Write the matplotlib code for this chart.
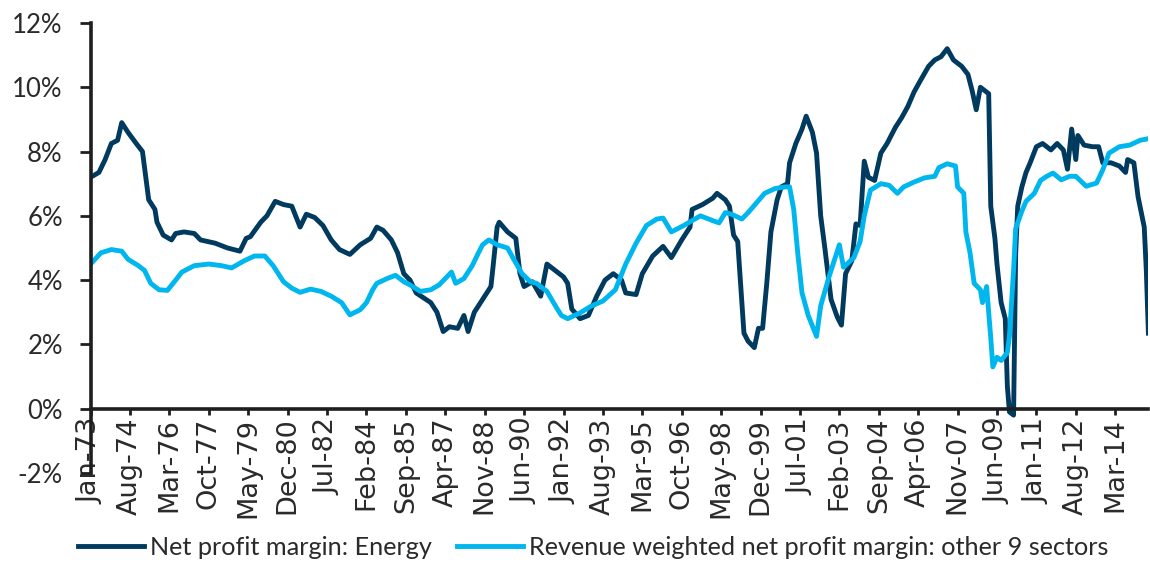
"""
Net profit margin of the Energy sector vs. revenue weighted margin of the other 9 sectors.
Line chart, Jan-73 to mid-2015, monthly axis with a label every 19 months.
"""

import matplotlib
matplotlib.use("Agg")
import matplotlib.pyplot as plt
from matplotlib.ticker import FuncFormatter

# ---------------------------------------------------------------------------
# Data. Months are counted from Jan-1973.
# ---------------------------------------------------------------------------
energy_month = [
    0, 4, 7, 10, 13, 15, 18, 22, 25, 27, 28, 31, 32, 35, 39, 41, 45, 50, 53, 60,
    66, 72, 75, 77, 82, 85, 89, 93, 97, 101, 104, 108, 112, 116, 120, 125, 130, 135, 138, 141,
    145, 148, 151, 154, 157, 164, 167, 170, 173, 177, 180, 182, 185, 189, 193, 194, 196, 197, 201, 205,
    207, 209, 213, 217, 220, 224, 228, 230, 232, 236, 240, 244, 248, 252, 256, 258, 263, 266, 271, 276,
    280, 285, 289, 290, 295, 300, 302, 306, 308, 310, 312, 315, 317, 320, 322, 324, 326, 328, 331, 333,
    336, 337, 340, 343, 345, 348, 350, 352, 354, 357, 360, 362, 364, 367, 369, 371, 373, 375, 378, 381,
    384, 388, 391, 394, 397, 400, 404, 407, 410, 413, 416, 420, 423, 425, 427, 429, 433, 434, 436, 437,
    439, 441, 442, 443, 445, 446, 447, 449, 451, 453, 456, 459, 463, 466, 469, 471, 473, 475, 476, 479,
    483, 486, 488, 492, 496, 499, 500, 503, 505, 508, 509, 510,
]
energy_margin = [
    7.2, 7.35, 7.75, 8.25, 8.35, 8.9, 8.6, 8.25, 8.0, 7.0, 6.5, 6.2, 5.8, 5.4, 5.25, 5.45, 5.5, 5.45, 5.25, 5.15,
    5.0, 4.9, 5.3, 5.35, 5.8, 6.0, 6.45, 6.35, 6.3, 5.65, 6.05, 5.95, 5.7, 5.25, 4.95, 4.8, 5.1, 5.3, 5.65, 5.55,
    5.25, 4.85, 4.2, 4.0, 3.6, 3.3, 3.0, 2.4, 2.55, 2.5, 2.9, 2.4, 3.0, 3.4, 3.8, 4.4, 5.65, 5.8, 5.5, 5.3,
    4.2, 3.8, 3.95, 3.5, 4.5, 4.3, 4.1, 3.9, 3.1, 2.8, 2.9, 3.5, 4.0, 4.2, 4.0, 3.6, 3.55, 4.2, 4.75, 5.05,
    4.7, 5.25, 5.65, 6.2, 6.35, 6.55, 6.7, 6.5, 6.3, 5.4, 5.2, 2.35, 2.1, 1.9, 2.5, 2.5, 3.9, 5.5, 6.5, 6.9,
    7.0, 7.65, 8.25, 8.7, 9.1, 8.6, 7.95, 6.0, 5.0, 3.4, 2.85, 2.6, 4.2, 4.6, 5.75, 5.7, 7.7, 7.2, 7.1, 7.95,
    8.25, 8.75, 9.05, 9.4, 9.85, 10.2, 10.65, 10.85, 10.95, 11.2, 10.85, 10.65, 10.4, 9.9, 9.3, 10.0, 9.8, 6.3, 5.3, 4.5,
    3.3, 2.8, 0.7, -0.1, -0.2, 4.8, 6.3, 6.9, 7.35, 7.65, 8.15, 8.25, 8.05, 8.25, 8.05, 7.45, 8.7, 7.75, 8.5, 8.2,
    8.15, 8.15, 7.65, 7.65, 7.55, 7.35, 7.75, 7.65, 6.6, 5.65, 4.3, 2.35,
]

other_month = [
    0, 5, 10, 15, 18, 23, 26, 29, 33, 37, 41, 44, 50, 57, 63, 68, 74, 79, 84, 88,
    93, 97, 101, 106, 111, 116, 121, 125, 130, 133, 136, 138, 143, 147, 151, 154, 159, 164, 168, 174,
    176, 180, 184, 187, 189, 192, 196, 201, 204, 208, 212, 215, 220, 225, 227, 230, 236, 241, 247, 253,
    258, 263, 268, 273, 276, 280, 286, 290, 294, 300, 303, 306, 309, 314, 317, 321, 325, 330, 335, 337,
    339, 341, 343, 346, 350, 352, 356, 361, 363, 368, 371, 373, 376, 381, 385, 389, 392, 397, 402, 407,
    409, 413, 417, 418, 421, 422, 424, 426, 429, 430, 432, 434, 435, 437, 439, 442, 443, 445, 446, 449,
    451, 455, 458, 461, 464, 468, 472, 475, 480, 485, 488, 491, 496, 501, 506, 510,
]
other_margin = [
    4.5, 4.85, 4.95, 4.9, 4.65, 4.45, 4.3, 3.9, 3.7, 3.68, 4.0, 4.25, 4.45, 4.5, 4.45, 4.38, 4.6, 4.75, 4.75, 4.45,
    3.95, 3.75, 3.62, 3.72, 3.65, 3.5, 3.3, 2.92, 3.08, 3.3, 3.7, 3.9, 4.05, 4.15, 3.95, 3.85, 3.65, 3.7, 3.85, 4.25,
    3.9, 4.05, 4.45, 4.85, 5.1, 5.25, 5.1, 5.0, 4.65, 4.2, 3.95, 3.9, 3.65, 3.1, 2.9, 2.8, 2.98, 3.18, 3.35, 3.7,
    4.5, 5.15, 5.7, 5.9, 5.93, 5.5, 5.7, 5.85, 6.0, 5.85, 5.78, 6.1, 6.05, 5.9, 6.1, 6.4, 6.7, 6.85, 6.9, 6.9,
    6.2, 4.8, 3.6, 2.9, 2.25, 3.2, 4.1, 5.1, 4.4, 4.7, 5.2, 6.0, 6.8, 7.0, 6.95, 6.7, 6.9, 7.05, 7.18, 7.23,
    7.5, 7.62, 7.55, 6.9, 6.7, 5.5, 4.85, 3.9, 3.7, 3.3, 3.8, 2.2, 1.3, 1.6, 1.5, 1.75, 2.25, 4.3, 5.6, 6.15,
    6.45, 6.7, 7.1, 7.23, 7.33, 7.12, 7.23, 7.23, 6.92, 7.02, 7.43, 7.95, 8.15, 8.2, 8.35, 8.4,
]

x_tick_labels = [
    "Jan-73", "Aug-74", "Mar-76", "Oct-77", "May-79", "Dec-80", "Jul-82", "Feb-84", "Sep-85",
    "Apr-87", "Nov-88", "Jun-90", "Jan-92", "Aug-93", "Mar-95", "Oct-96", "May-98", "Dec-99",
    "Jul-01", "Feb-03", "Sep-04", "Apr-06", "Nov-07", "Jun-09", "Jan-11", "Aug-12", "Mar-14",
]
y_ticks = [-2, 0, 2, 4, 6, 8, 10, 12]

series_labels = [
    "Net profit margin: Energy",
    "Revenue weighted net profit margin: other 9 sectors",
]

# ---------------------------------------------------------------------------
# Style
# ---------------------------------------------------------------------------
DARK = "#003A5F"
CYAN = "#00B6EE"
AXIS_COLOR = "#1E1E1E"
TEXT_COLOR = "#2A2A2A"
MONTHS = ["Jan", "Feb", "Mar", "Apr", "May", "Jun", "Jul", "Aug", "Sep", "Oct", "Nov", "Dec"]


def label_to_month(label):
    """'Aug-74' -> months since Jan-1973."""
    mon, yy = label.split("-")
    year = 1900 + int(yy) if int(yy) > 50 else 2000 + int(yy)
    return (year - 1973) * 12 + MONTHS.index(mon)


plt.rcParams["font.family"] = ["Lato", "DejaVu Sans"]

fig = plt.figure(figsize=(11.5, 5.63), dpi=100)
ax = fig.add_axes([0.0788, 0.1599, 0.9198, 0.7993])

ax.plot(energy_month, energy_margin, color=DARK, lw=3.5,
        solid_joinstyle="round", label=series_labels[0], zorder=2)
ax.plot(other_month, other_margin, color=CYAN, lw=3.5,
        solid_joinstyle="round", label=series_labels[1], zorder=2.1)

ax.set_xlim(0, 510)
ax.set_ylim(-2, 12)

ax.set_yticks(y_ticks)
ax.yaxis.set_major_formatter(FuncFormatter(lambda v, _: f"{v:.0f}%"))
ax.set_xticks([label_to_month(l) for l in x_tick_labels])
ax.set_xticklabels(x_tick_labels)

for side in ["top", "right"]:
    ax.spines[side].set_visible(False)
ax.spines["left"].set_linewidth(2.6)
ax.spines["left"].set_color(AXIS_COLOR)
ax.spines["bottom"].set_position(("data", 0))
ax.spines["bottom"].set_linewidth(2.6)
ax.spines["bottom"].set_color(AXIS_COLOR)

ax.tick_params(axis="y", direction="out", length=8, width=2, pad=12,
               labelsize=18.5, colors=AXIS_COLOR, labelcolor=TEXT_COLOR)
ax.tick_params(axis="x", direction="out", length=4.5, width=2, pad=2,
               labelsize=19.5, labelrotation=90, colors=AXIS_COLOR,
               labelcolor=TEXT_COLOR)
for lbl in ax.get_xticklabels():
    lbl.set_family("DejaVu Sans")

fig.legend(loc="center", bbox_to_anchor=(0.516, 0.027), ncol=2, frameon=False,
           fontsize=18.2, handlelength=2.6, handletextpad=0.25, columnspacing=1.0,
           labelcolor=TEXT_COLOR)

fig.savefig("out.png", dpi=100)
